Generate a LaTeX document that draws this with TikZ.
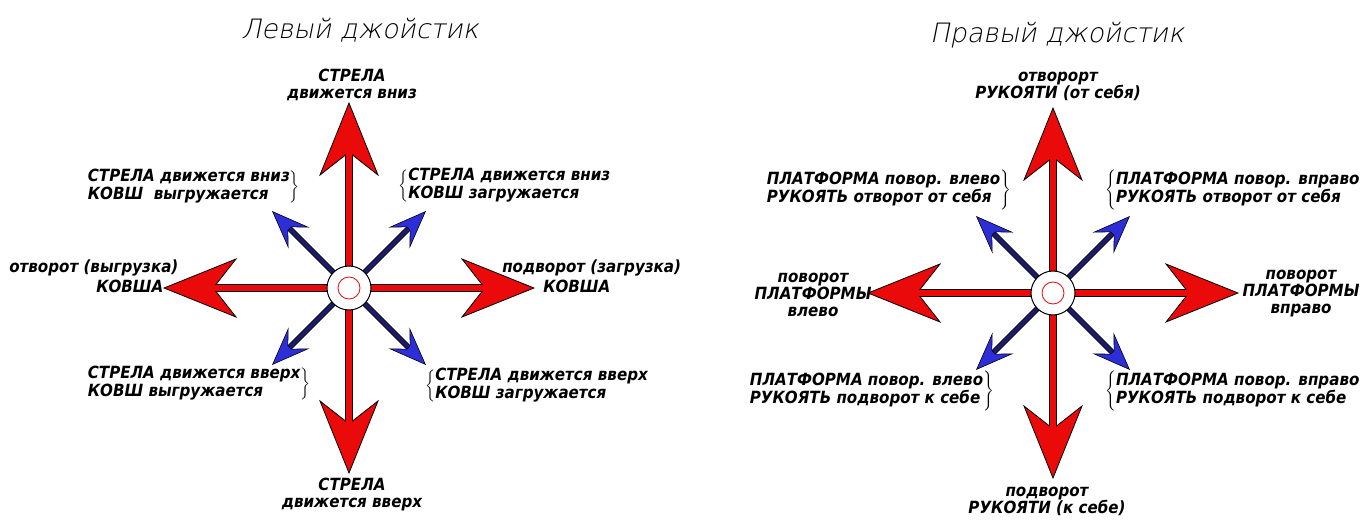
\documentclass[tikz,border=0pt]{standalone}
\usepackage{fontspec}
\setmainfont{DejaVu Sans}
\newfontfamily\joyfamily{DejaVu Sans Condensed}
\newfontfamily\joytitlefamily{DejaVu Sans ExtraLight}[FakeSlant=0.2]
\newlength{\du}
\setlength{\du}{0.75pt}
\definecolor{joyred}{rgb}{0.920000, 0.040000, 0.040000}
\definecolor{joyblue}{rgb}{0.180000, 0.180000, 0.850000}
\definecolor{joynavy}{rgb}{0.110000, 0.110000, 0.400000}
\newcommand{\joyfont}{\joyfamily\fontsize{12.6pt}{12.75pt}\selectfont\bfseries\itshape}
\newcommand{\joytitlefont}{\joytitlefamily\fontsize{20pt}{22pt}\selectfont}
\tikzset{
  redarr/.style={draw=black, line width=0.8\du, fill=joyred, line join=miter},
  blueshaft/.style={draw=black, line width=0.6\du, fill=joynavy},
  bluehead/.style={draw=black, line width=0.6\du, fill=joyblue, line join=miter},
  knob/.style={circle, draw=black, line width=1\du, fill=white, minimum size=44\du, inner sep=0pt},
  joytext/.style={font=\joyfont, inner sep=0pt, align=center},
  joytitle/.style={font=\joytitlefont, inner sep=0pt, anchor=base},
}
\newcommand{\redarrow}[2]{%
  \draw[redarr, shift={(#1)}, rotate=#2] (0\du,-3.5\du) -- (133\du,-3.5\du) -- (113\du,-29\du) -- (185\du,0\du) -- (113\du,29\du) -- (133\du,3.5\du) -- (0\du,3.5\du) -- cycle;}
\newcommand{\bluearrow}[2]{%
  \draw[blueshaft, shift={(#1)}, rotate=#2] (0\du,-2.5\du) -- (86\du,-2.5\du) -- (86\du,2.5\du) -- (0\du,2.5\du) -- cycle;
  \draw[bluehead, shift={(#1)}, rotate=#2] (84\du,-2.5\du) -- (72\du,-14\du) -- (108\du,0\du) -- (72\du,14\du) -- (84\du,2.5\du) -- cycle;}

\begin{document}
\begin{tikzpicture}
\pgftransformxscale{1.000000}
\pgftransformyscale{-1.000000}
\useasboundingbox[fill=white] (0\du,0\du) rectangle (1365\du,521\du);
% left joystick
\coordinate (lc) at (349\du,288\du);
\redarrow{lc}{-90}
\redarrow{lc}{0}
\redarrow{lc}{90}
\redarrow{lc}{180}
\bluearrow{lc}{-135}
\bluearrow{lc}{-45}
\bluearrow{lc}{45}
\bluearrow{lc}{135}
\node[knob] (lk) at (lc) {};
\draw[joyred, line width=0.8\du] (lc) circle (11\du);
\node[joytitle] (lt) at (360\du,38\du) {Левый джойстик};
\node[joytext] (lup) at (352\du,85\du) {СТРЕЛА\\движется вниз};
\node[joytext, anchor=west] (lul) at (86\du,187\du) {$\left.\begin{tabular}{@{}l@{}}СТРЕЛА движется вниз\\КОВШ\ \ выгружается\end{tabular}\right\}$};
\node[joytext, anchor=west] (lur) at (398\du,186\du) {$\left\{\begin{tabular}{@{}l@{}}СТРЕЛА движется вниз\\КОВШ загружается\end{tabular}\right.$};
\node[joytext, anchor=west, align=left] (lle) at (9\du,276\du) {отворот (выгрузка)\\[3\du]\hspace*{87\du}КОВША};
\node[joytext, anchor=west, align=left] (lri) at (502\du,276\du) {подворот (загрузка)\\[3\du]\hspace*{41\du}КОВША};
\node[joytext, anchor=west] (lll) at (86\du,384\du) {$\left.\begin{tabular}{@{}l@{}}СТРЕЛА движется вверх\\КОВШ выгружается\end{tabular}\right\}$};
\node[joytext, anchor=west] (llr) at (425\du,386\du) {$\left\{\begin{tabular}{@{}l@{}}СТРЕЛА движется вверх\\КОВШ загружается\end{tabular}\right.$};
\node[joytext] (ldn) at (352\du,495\du) {СТРЕЛА\\движется вверх};
% right joystick
\coordinate (rc) at (1053\du,293\du);
\redarrow{rc}{-90}
\redarrow{rc}{0}
\redarrow{rc}{90}
\redarrow{rc}{180}
\bluearrow{rc}{-135}
\bluearrow{rc}{-45}
\bluearrow{rc}{45}
\bluearrow{rc}{135}
\node[knob] (rk) at (rc) {};
\draw[joyred, line width=0.8\du] (rc) circle (11\du);
\node[joytitle] (rt) at (1057\du,42\du) {Правый джойстик};
\node[joytext] (rup) at (1058\du,86\du) {отворорт\\РУКОЯТИ (от себя)};
\node[joytext, anchor=west] (rul) at (765\du,190\du) {$\left.\begin{tabular}{@{}l@{}}ПЛАТФОРМА повор. влево\\РУКОЯТЬ отворот от себя\end{tabular}\right\}$};
\node[joytext, anchor=west] (rur) at (1105\du,190\du) {$\left\{\begin{tabular}{@{}l@{}}ПЛАТФОРМА повор. вправо\\РУКОЯТЬ отворот от себя\end{tabular}\right.$};
\node[joytext] (rle) at (813\du,295\du) {поворот\\ПЛАТФОРМЫ\\влево};
\node[joytext] (rri) at (1301\du,294\du) {поворот\\ПЛАТФОРМЫ\\вправо};
\node[joytext, anchor=west] (rll) at (748\du,391\du) {$\left.\begin{tabular}{@{}l@{}}ПЛАТФОРМА повор. влево\\РУКОЯТЬ подворот к себе\end{tabular}\right\}$};
\node[joytext, anchor=west] (rlr) at (1105\du,391\du) {$\left\{\begin{tabular}{@{}l@{}}ПЛАТФОРМА повор. вправо\\РУКОЯТЬ подворот к себе\end{tabular}\right.$};
\node[joytext] (rdn) at (1047\du,501\du) {подворот\\РУКОЯТИ (к себе)};
\end{tikzpicture}
\end{document}
